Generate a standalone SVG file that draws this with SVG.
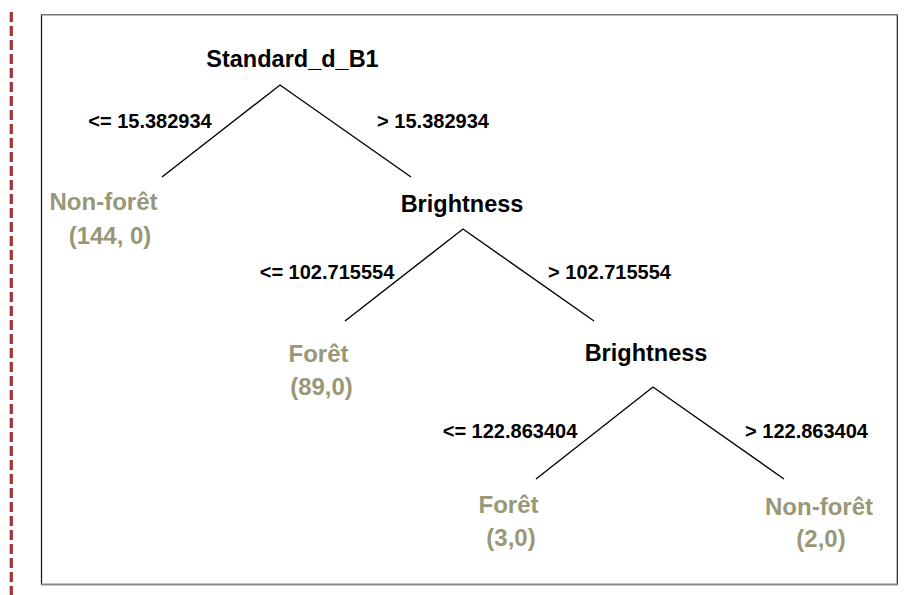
<svg xmlns="http://www.w3.org/2000/svg" width="919" height="595" viewBox="0 0 919 595">
<style>
text{font-family:"Liberation Sans",Arial,sans-serif;font-weight:bold;text-anchor:middle}
.node{font-size:23.5px;fill:#000}
.leaf{font-size:24px;fill:#989878}
.lbl{font-size:20px;fill:#000}
.edge{stroke:#000;stroke-width:1.4;fill:none}
</style>
<rect width="919" height="595" fill="#fff"/>
<line x1="11.3" y1="12" x2="11.3" y2="595" stroke="#A0393B" stroke-width="3.3" stroke-dasharray="10 4"/>
<line x1="41.5" y1="14" x2="41.5" y2="585" stroke="#111" stroke-width="1.2"/>
<line x1="897.3" y1="14" x2="897.3" y2="585" stroke="#222" stroke-width="1.2"/>
<line x1="41" y1="14.8" x2="898" y2="14.8" stroke="#777" stroke-width="1.5"/>
<line x1="41" y1="584.5" x2="898" y2="584.5" stroke="#888" stroke-width="2"/>
<g id="connectors">
<polyline class="edge" points="162,177 280,85 411,177"/>
<polyline class="edge" points="345,321 463,229 594,321"/>
<polyline class="edge" points="536,479 653,387 784,479"/>
<text class="lbl" x="150" y="128">&lt;= 15.382934</text>
<text class="lbl" x="433" y="128">&gt; 15.382934</text>
<text class="lbl" x="327" y="279">&lt;= 102.715554</text>
<text class="lbl" x="609.5" y="279">&gt; 102.715554</text>
<text class="lbl" x="510" y="438">&lt;= 122.863404</text>
<text class="lbl" x="806.5" y="438">&gt; 122.863404</text>
</g>
<g id="root"><text class="node" x="292.5" y="67">Standard_d_B1</text></g>
<g id="leaf1"><text class="leaf" x="103.5" y="210">Non-forêt</text><text class="leaf" x="110" y="244">(144, 0)</text></g>
<g id="brightness1"><text class="node" x="462" y="212">Brightness</text></g>
<g id="leaf2"><text class="leaf" x="318.5" y="362">Forêt</text><text class="leaf" x="321.5" y="395">(89,0)</text></g>
<g id="brightness2"><text class="node" x="646" y="361">Brightness</text></g>
<g id="leaf3"><text class="leaf" x="508.5" y="513">Forêt</text><text class="leaf" x="511" y="546">(3,0)</text></g>
<g id="leaf4"><text class="leaf" x="819" y="515">Non-forêt</text><text class="leaf" x="821" y="547">(2,0)</text></g>
</svg>
